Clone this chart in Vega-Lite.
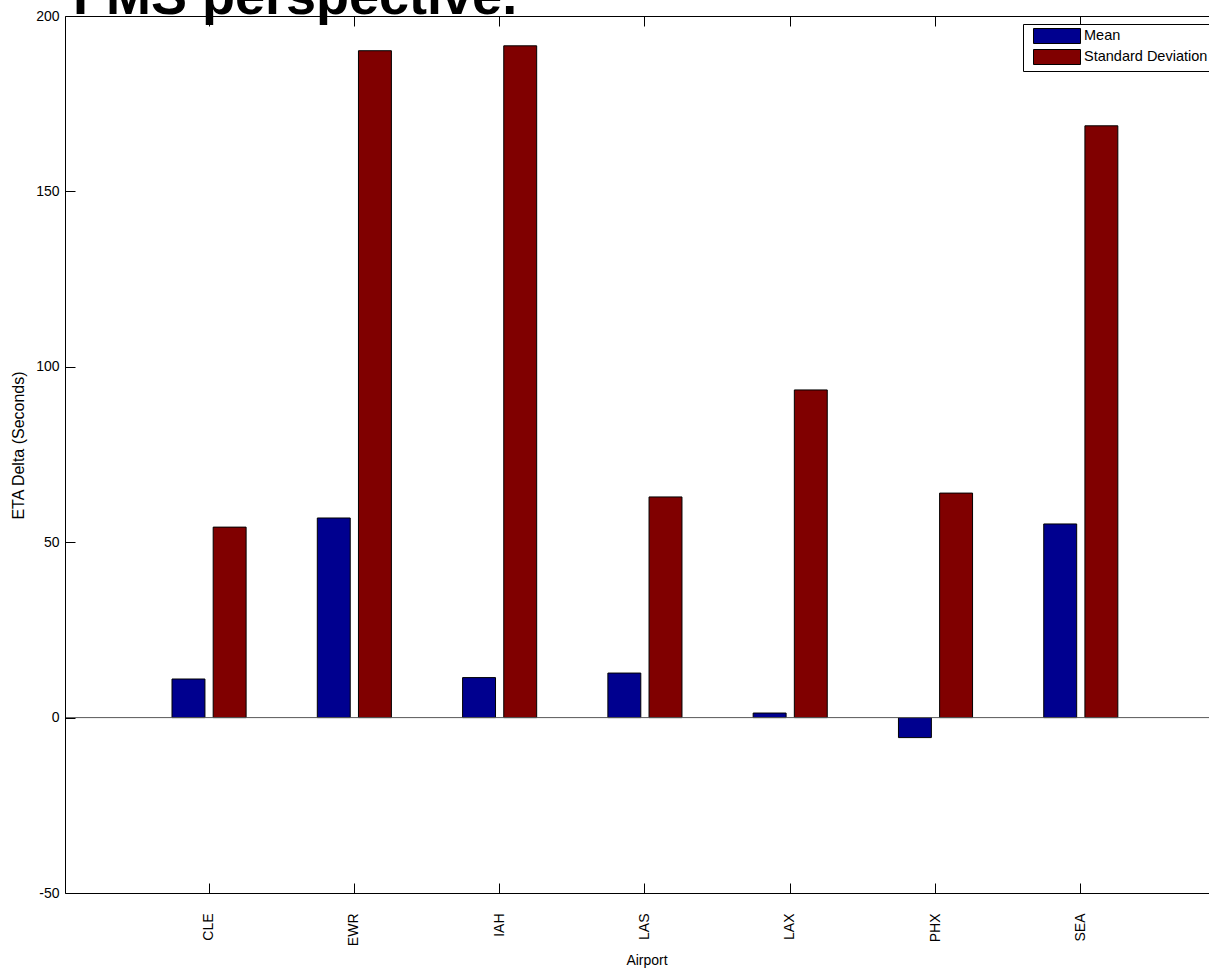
{
  "$schema": "https://vega.github.io/schema/vega-lite/v6.json",
  "width": 1144,
  "height": 877,
  "autosize": {"type": "none"},
  "padding": {"left": 65, "top": 16, "right": 0, "bottom": 76},
  "background": "white",
  "title": {
    "text": "FMS perspective.",
    "anchor": "start",
    "frame": "group",
    "font": "Liberation Sans",
    "fontSize": 54,
    "fontWeight": "bold",
    "color": "black",
    "baseline": "alphabetic",
    "offset": 0,
    "dx": 8,
    "dy": 59,
    "zindex": -1
  },
  "data": {
    "values": [
      {"airport": "CLE", "series": "Mean", "value": 11.0},
      {"airport": "CLE", "series": "Standard Deviation", "value": 54.3},
      {"airport": "EWR", "series": "Mean", "value": 56.9},
      {"airport": "EWR", "series": "Standard Deviation", "value": 190.1},
      {"airport": "IAH", "series": "Mean", "value": 11.4},
      {"airport": "IAH", "series": "Standard Deviation", "value": 191.5},
      {"airport": "LAS", "series": "Mean", "value": 12.7},
      {"airport": "LAS", "series": "Standard Deviation", "value": 62.9},
      {"airport": "LAX", "series": "Mean", "value": 1.3},
      {"airport": "LAX", "series": "Standard Deviation", "value": 93.4},
      {"airport": "PHX", "series": "Mean", "value": -5.7},
      {"airport": "PHX", "series": "Standard Deviation", "value": 64.0},
      {"airport": "SEA", "series": "Mean", "value": 55.2},
      {"airport": "SEA", "series": "Standard Deviation", "value": 168.7}
    ]
  },
  "layer": [
    {
      "transform": [{"filter": "datum.airport === 'CLE' && datum.series === 'Mean'"}],
      "mark": {"type": "rect", "fill": "white", "strokeWidth": 0},
      "encoding": {
        "y": {"datum": 200, "type": "quantitative", "scale": {"domain": [-50, 200], "nice": false, "zero": false}, "title": "ETA Delta (Seconds)"},
        "y2": {"datum": -50}
      }
    },
    {
      "mark": {"type": "bar", "stroke": "black", "strokeWidth": 1},
      "encoding": {
        "x": {
          "field": "airport",
          "type": "nominal",
          "scale": {"type": "band", "paddingInner": 0.49, "paddingOuter": 0.682, "align": 0.54},
          "axis": {
            "orient": "bottom",
            "title": "Airport",
            "labelAngle": 270,
            "tickSize": -10,
            "labelPadding": 30,
            "labelFontSize": 14,
            "titleFontSize": 14,
            "titleX": 581.5,
            "titleY": 71,
            "titleBaseline": "alphabetic",
            "titleAlign": "center",
            "zindex": 1
          }
        },
        "xOffset": {"field": "series", "scale": {"paddingInner": 0.2, "paddingOuter": 0}},
        "y": {
          "field": "value",
          "type": "quantitative",
          "scale": {"domain": [-50, 200], "nice": false, "zero": false},
          "title": "ETA Delta (Seconds)",
          "axis": {
            "values": [-50, 0, 50, 100, 150, 200],
            "labelExpr": "datum.value + ''",
            "tickSize": -10,
            "labelPadding": 16,
            "labelFontSize": 14,
            "titleFontSize": 16,
            "titleAngle": 270,
            "titleX": -47,
            "titleY": 429,
            "titleBaseline": "middle",
            "titleAlign": "center",
            "zindex": 1
          }
        },
        "color": {
          "field": "series",
          "type": "nominal",
          "scale": {"domain": ["Mean", "Standard Deviation"], "range": ["#00008F", "#800000"]},
          "legend": {
            "orient": "none",
            "legendX": 958,
            "legendY": 8,
            "title": null,
            "symbolType": "M-1,-1H5.267V1H-1Z",
            "symbolSize": 225,
            "symbolStrokeColor": "black",
            "symbolStrokeWidth": 1,
            "symbolOpacity": 1,
            "symbolOffset": 6,
            "labelOffset": 35,
            "labelFontSize": 14.5,
            "labelFont": "Liberation Sans",
            "labelColor": "black",
            "labelLimit": 0,
            "padding": 4,
            "rowPadding": 1,
            "strokeColor": "black",
            "fillColor": "white",
            "zindex": 2
          }
        }
      }
    },
    {
      "transform": [{"filter": "datum.airport === 'CLE' && datum.series === 'Mean'"}],
      "mark": {"type": "rule", "color": "#595959", "strokeWidth": 1},
      "encoding": {
        "y": {"datum": 0, "type": "quantitative", "scale": {"domain": [-50, 200], "nice": false, "zero": false}, "title": "ETA Delta (Seconds)"}
      }
    },
    {
      "transform": [{"filter": "datum.series === 'Mean'"}],
      "mark": {"type": "rule", "opacity": 0},
      "encoding": {
        "x": {
          "field": "airport",
          "type": "nominal",
          "scale": {"type": "band", "paddingInner": 0.49, "paddingOuter": 0.682, "align": 0.54},
          "axis": {"orient": "top", "title": null, "labels": false, "tickSize": -10, "zindex": 1}
        }
      }
    }
  ],
  "resolve": {"axis": {"x": "independent"}},
  "config": {
    "view": {"stroke": null},
    "font": "Liberation Sans",
    "axis": {
      "grid": false,
      "domainColor": "black",
      "domainWidth": 1,
      "tickColor": "black",
      "tickWidth": 1,
      "labelColor": "black",
      "titleColor": "black",
      "labelFont": "Liberation Sans",
      "titleFont": "Liberation Sans",
      "titleFontWeight": "normal"
    }
  }
}
